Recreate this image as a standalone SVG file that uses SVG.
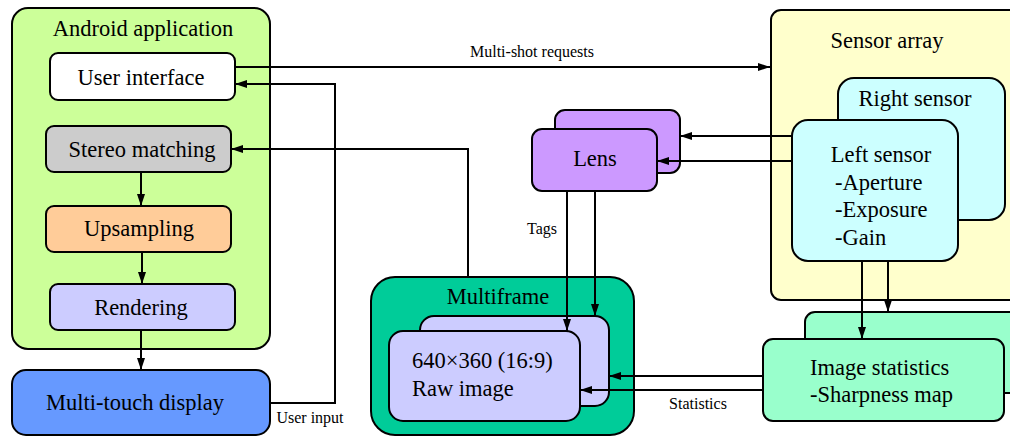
<svg xmlns="http://www.w3.org/2000/svg" width="1010" height="437" viewBox="0 0 1010 437">
<style>
.b{stroke:#000;stroke-width:2}
.t{font-family:"Liberation Serif","Times New Roman",serif;font-size:22.5px;fill:#000}
.s{font-family:"Liberation Serif","Times New Roman",serif;font-size:16px;fill:#000}
.c{fill:none;stroke:#000;stroke-width:2}
</style>
<defs>
<marker id="a" viewBox="0 0 12 8" refX="12" refY="4" markerWidth="12" markerHeight="8" markerUnits="userSpaceOnUse" orient="auto"><path d="M0,0L12,4L0,8z" fill="#000"/></marker>
</defs>
<rect width="1010" height="437" fill="#fff"/>
<g id="android">
<rect class="b" x="12" y="8" width="258" height="341" rx="16" fill="#ccff99"/>
<text class="t" x="143" y="36" text-anchor="middle">Android application</text>
</g>
<g id="ui"><rect class="b" x="50" y="53" width="185" height="47" rx="8" fill="#fff"/><text class="t" x="141" y="85" text-anchor="middle">User interface</text></g>
<g id="stereo"><rect class="b" x="46" y="126" width="185" height="46" rx="8" fill="#cccccc"/><text class="t" x="142" y="157" text-anchor="middle">Stereo matching</text></g>
<g id="ups"><rect class="b" x="46" y="206" width="185" height="46" rx="8" fill="#ffcc99"/><text class="t" x="139" y="236" text-anchor="middle">Upsampling</text></g>
<g id="render"><rect class="b" x="50" y="284" width="185" height="46" rx="8" fill="#ccccff"/><text class="t" x="141" y="315" text-anchor="middle">Rendering</text></g>
<g id="display"><rect class="b" x="12" y="370" width="258" height="65" rx="14" fill="#6699ff"/><text class="t" x="135" y="410" text-anchor="middle">Multi-touch display</text></g>
<g id="sensorarray"><rect class="b" x="771" y="10" width="260" height="290" rx="10" fill="#ffffcc"/><text class="t" x="887" y="48" text-anchor="middle">Sensor array</text></g>
<g id="right"><rect class="b" x="838" y="78" width="167" height="142" rx="16" fill="#ccffff"/><text class="t" x="915" y="106" text-anchor="middle">Right sensor</text></g>
<g id="left"><rect class="b" x="792" y="120" width="166" height="141" rx="16" fill="#ccffff"/>
<text class="t" x="881" y="162" text-anchor="middle">Left sensor</text>
<text class="t" x="835" y="190">-Aperture</text>
<text class="t" x="835" y="217">-Exposure</text>
<text class="t" x="835" y="245">-Gain</text></g>
<g id="lens"><rect class="b" x="555" y="110" width="125" height="63" rx="10" fill="#cc99ff"/><rect class="b" x="532" y="129" width="125" height="62" rx="10" fill="#cc99ff"/><text class="t" x="595" y="166" text-anchor="middle">Lens</text></g>
<g id="multiframe"><rect class="b" x="371" y="277" width="263" height="158" rx="24" fill="#00cc99"/><text class="t" x="498" y="304" text-anchor="middle">Multiframe</text></g>
<g id="raw"><rect class="b" x="420" y="316" width="189" height="90" rx="14" fill="#ccccff"/><rect class="b" x="389" y="331" width="191" height="90" rx="14" fill="#ccccff"/>
<text class="t" x="412" y="368">640×360 (16:9)</text><text class="t" x="412" y="396">Raw image</text></g>
<g id="stats"><rect class="b" x="805" y="312" width="230" height="81" rx="10" fill="#99ffcc"/><rect class="b" x="763" y="339" width="241" height="82" rx="10" fill="#99ffcc"/>
<text class="t" x="810" y="375">Image statistics</text><text class="t" x="810" y="402">-Sharpness map</text></g>
<g id="connectors">
<path class="c" d="M235,67H770" marker-end="url(#a)"/>
<path class="c" d="M270,403H335V84H235" marker-end="url(#a)"/>
<path class="c" d="M468,277V149H231" marker-end="url(#a)"/>
<path class="c" d="M141,172V206" marker-end="url(#a)"/>
<path class="c" d="M142,252V284" marker-end="url(#a)"/>
<path class="c" d="M141,330V370" marker-end="url(#a)"/>
<path class="c" d="M792,136H680" marker-end="url(#a)"/>
<path class="c" d="M792,161H657" marker-end="url(#a)"/>
<path class="c" d="M567,191V331" marker-end="url(#a)"/>
<path class="c" d="M595,191V316" marker-end="url(#a)"/>
<path class="c" d="M862,261V339" marker-end="url(#a)"/>
<path class="c" d="M888,261V312" marker-end="url(#a)"/>
<path class="c" d="M763,376H609" marker-end="url(#a)"/>
<path class="c" d="M763,390H580" marker-end="url(#a)"/>
<text class="s" x="532" y="57" text-anchor="middle">Multi-shot requests</text>
<text class="s" x="310" y="423" text-anchor="middle">User input</text>
<text class="s" x="542" y="234" text-anchor="middle">Tags</text>
<text class="s" x="698" y="409" text-anchor="middle">Statistics</text>
</g>
</svg>
